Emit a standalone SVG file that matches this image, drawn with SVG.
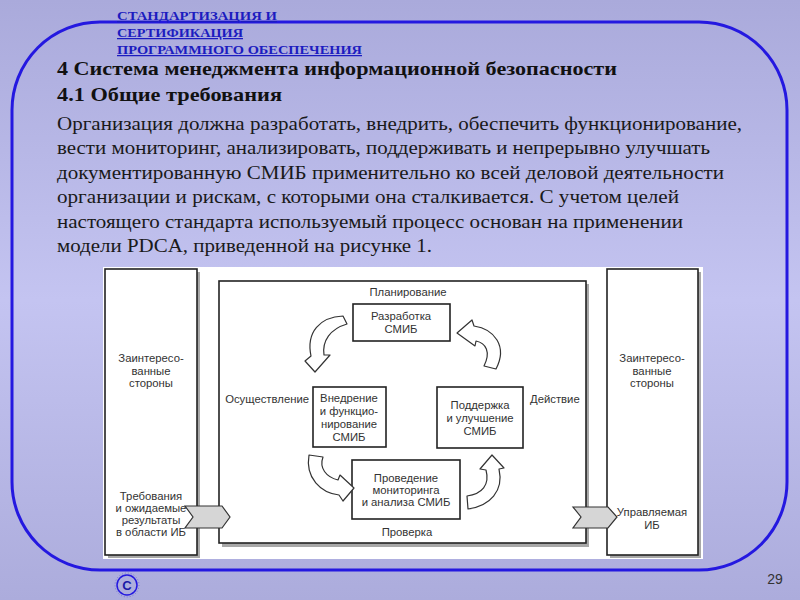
<svg xmlns="http://www.w3.org/2000/svg" width="800" height="600" viewBox="0 0 800 600">
<defs>
<linearGradient id="bg" x1="0" y1="0" x2="0" y2="1">
<stop offset="0" stop-color="#aaaadb"/>
<stop offset="0.5" stop-color="#c4c4f1"/>
<stop offset="1" stop-color="#acacdc"/>
</linearGradient>
<style>
.title{font-family:"Liberation Serif","DejaVu Serif",serif;font-size:12.5px;font-weight:bold;fill:#1c1cc0;text-decoration:underline}
.head{font-family:"Liberation Serif","DejaVu Serif",serif;font-size:19px;font-weight:bold;fill:#111}
.body{font-family:"Liberation Serif","DejaVu Serif",serif;font-size:19px;fill:#1a1a1a}
.d{font-family:"Liberation Sans","Arial",sans-serif;font-size:11.3px;fill:#333;text-anchor:middle}
.box{fill:#fff;stroke:#222;stroke-width:1.6}
.sh{fill:#a8a8a8}
.arr{fill:#fff;stroke:#333;stroke-width:1.2;stroke-linejoin:round}
.chev{fill:#d6d6d6;stroke:#333;stroke-width:1.2}
</style>
</defs>
<rect width="800" height="600" fill="url(#bg)"/>
<rect x="12" y="22" width="775" height="548" rx="88" ry="88" fill="none" stroke="#2418e0" stroke-width="3"/>
<g id="title">
<text class="title" x="117" y="20" textLength="160" lengthAdjust="spacingAndGlyphs">СТАНДАРТИЗАЦИЯ И</text>
<text class="title" x="117" y="37" textLength="126" lengthAdjust="spacingAndGlyphs">СЕРТИФИКАЦИЯ</text>
<text class="title" x="117" y="54" textLength="245" lengthAdjust="spacingAndGlyphs">ПРОГРАММНОГО ОБЕСПЕЧЕНИЯ</text>
</g>
<g id="text">
<text class="head" x="57" y="75" textLength="560" lengthAdjust="spacingAndGlyphs">4 Система менеджмента информационной безопасности</text>
<text class="head" x="57" y="101" textLength="225" lengthAdjust="spacingAndGlyphs">4.1 Общие требования</text>
<text class="body" x="57" y="130" textLength="685" lengthAdjust="spacingAndGlyphs">Организация должна разработать, внедрить, обеспечить функционирование,</text>
<text class="body" x="57" y="154" textLength="653" lengthAdjust="spacingAndGlyphs">вести мониторинг, анализировать, поддерживать и непрерывно улучшать</text>
<text class="body" x="57" y="179" textLength="667" lengthAdjust="spacingAndGlyphs">документированную СМИБ применительно ко всей деловой деятельности</text>
<text class="body" x="57" y="203" textLength="622" lengthAdjust="spacingAndGlyphs">организации и рискам, с которыми она сталкивается. С учетом целей</text>
<text class="body" x="57" y="228" textLength="626" lengthAdjust="spacingAndGlyphs">настоящего стандарта используемый процесс основан на применении</text>
<text class="body" x="57" y="252" textLength="375" lengthAdjust="spacingAndGlyphs">модели PDCA, приведенной на рисунке 1.</text>
</g>
<rect x="103" y="267" width="600" height="292" fill="#fff"/>
<g id="left-box">
<rect class="sh" x="108" y="272" width="92" height="286"/>
<rect class="box" x="105" y="269" width="92" height="286"/>
<text class="d" x="151" y="362">Заинтересо-</text>
<text class="d" x="151" y="375">ванные</text>
<text class="d" x="151" y="387">стороны</text>
<text class="d" x="151" y="500">Требования</text>
<text class="d" x="151" y="512">и ожидаемые</text>
<text class="d" x="151" y="524">результаты</text>
<text class="d" x="151" y="536">в области ИБ</text>
</g>
<g id="right-box">
<rect class="sh" x="610" y="272" width="91" height="286"/>
<rect class="box" x="607" y="269" width="91" height="286"/>
<text class="d" x="652" y="362">Заинтересо-</text>
<text class="d" x="652" y="375">ванные</text>
<text class="d" x="652" y="387">стороны</text>
<text class="d" x="652" y="516">Управляемая</text>
<text class="d" x="652" y="529">ИБ</text>
</g>
<g id="main-box">
<rect class="sh" x="222" y="284" width="367" height="263"/>
<rect class="box" x="219" y="281" width="367" height="262" stroke-width="2"/>
<text class="d" x="408" y="296">Планирование</text>
<text class="d" x="309" y="403" style="text-anchor:end">Осуществление</text>
<text class="d" x="530" y="403" style="text-anchor:start">Действие</text>
<text class="d" x="407" y="536">Проверка</text>
</g>
<g id="plan">
<rect class="box" x="353" y="304" width="97" height="37"/>
<text class="d" x="401" y="320">Разработка</text>
<text class="d" x="401" y="333">СМИБ</text>
</g>
<g id="do">
<rect class="box" x="313" y="387" width="73" height="60"/>
<text class="d" x="349" y="402">Внедрение</text>
<text class="d" x="349" y="415">и функцио-</text>
<text class="d" x="349" y="428">нирование</text>
<text class="d" x="349" y="441">СМИБ</text>
</g>
<g id="act">
<rect class="box" x="437" y="387" width="86" height="61"/>
<text class="d" x="480" y="409">Поддержка</text>
<text class="d" x="480" y="422">и улучшение</text>
<text class="d" x="480" y="435">СМИБ</text>
</g>
<g id="check">
<rect class="box" x="352" y="460" width="108" height="59"/>
<text class="d" x="406" y="482">Проведение</text>
<text class="d" x="406" y="494">мониторинга</text>
<text class="d" x="406" y="506">и анализа СМИБ</text>
</g>
<g id="connectors">
<path class="arr" d="M343,316 C320,317 306,332 311,356 L305,361 L315,372 L330,355 L324,355 C322,341 330,329 347,324 Z"/>
<path class="arr" d="M457,333 L472,320 L474,326 C494,329 508,346 496,369 L484,366 C491,352 486,343 476,341 L475,346 Z"/>
<path class="arr" d="M309,455 L323,457 C319,468 326,477 338,480 L340,475 L354,488 L343,501 L339,495 C321,493 305,478 309,455 Z"/>
<path class="arr" d="M492,455 L504,468 L499,469 C504,491 490,506 468,509 L467,496 C482,494 490,485 486,470 L480,469 Z"/>
<polygon class="chev" points="185,506 222,506 230,517 222,528 185,528 193,517"/>
<polygon class="chev" points="573,507 608,507 617,517 608,528 573,528 581,517"/>
</g>
<g id="footer">
<circle cx="127" cy="585" r="10" fill="none" stroke="#2418e0" stroke-width="1.5"/>
<circle cx="127" cy="585" r="12" fill="none" stroke="#6a6ad0" stroke-width="0.8" stroke-dasharray="1,2"/>
<text x="127" y="590" font-family="Liberation Sans, sans-serif" font-size="13" font-weight="bold" fill="#1a1aa8" text-anchor="middle">C</text>
<text x="775" y="584" font-family="Liberation Sans, sans-serif" font-size="14" fill="#333" text-anchor="middle">29</text>
</g>
</svg>
